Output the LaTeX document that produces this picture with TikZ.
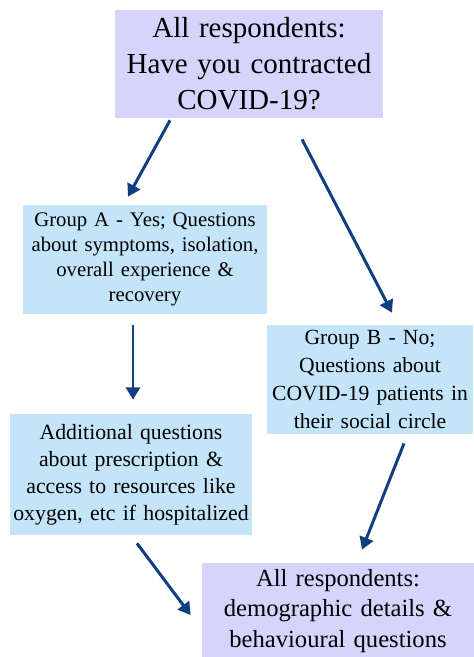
\documentclass[tikz,border=0pt]{standalone}
\usepackage{fontspec}
\setmainfont{Liberation Serif}
\usetikzlibrary{arrows.meta,calc}

\definecolor{lavbox}{RGB}{212,212,252}
\definecolor{bluebox}{RGB}{196,228,250}
\definecolor{arrowblue}{RGB}{16,62,128}

\tikzset{
    box/.style={inner sep=0pt, align=center, text=black},
    arr/.style={arrowblue, line width=1.7pt, -{Triangle[length=7pt,width=8pt]}}
}

\begin{document}
\begin{tikzpicture}[x=0.02cm, y=-0.02cm]
        \useasboundingbox (0,0) rectangle (474,657);
        \clip (0,0) rectangle (474,657);
        % 问题框
        \node[box, fill=lavbox, text width=268*0.02cm, minimum height=108*0.02cm,
              font=\fontsize{16.5}{20.5}\selectfont] (top) at (249,64)
              {All respondents:\\Have you contracted\\COVID-19?};
        \node[box, fill=bluebox, text width=244*0.02cm, minimum height=109*0.02cm,
              font=\fontsize{11.8}{14.2}\selectfont] (groupA) at (145,259.5)
              {Group A - Yes; Questions\\about symptoms, isolation,\\overall experience \&\\recovery};
        \node[box, fill=bluebox, text width=206*0.02cm, minimum height=109*0.02cm,
              font=\fontsize{12.3}{16}\selectfont] (groupB) at (370,379.5)
              {Group B - No;\\Questions about\\COVID-19 patients in\\their social circle};
        \node[box, fill=bluebox, text width=242*0.02cm, minimum height=121*0.02cm,
              font=\fontsize{12.4}{15.3}\selectfont] (extra) at (131,474.5)
              {Additional questions\\about prescription \&\\access to resources like\\oxygen, etc if hospitalized};
        \node[box, fill=lavbox, text width=272*0.02cm, minimum height=96*0.02cm,
              font=\fontsize{14}{17.5}\selectfont] (bottom) at (338,611)
              {All respondents:\\demographic details \&\\behavioural questions};
        % 箭头
        \draw[arr] ($(top.south)+(-79,2)$) -- ($(groupA.north)+(-17,-8)$);
        \draw[arr] ($(top.south)+(53,21)$) -- ($(groupB.north)+(22,-12)$);
        \draw[arr] ($(groupA.south)+(-12,11)$) -- ($(extra.north)+(2,-14)$);
        \draw[arr] ($(groupB.south)+(34,9)$) -- ($(bottom.north)+(24,-13)$);
        \draw[arr] ($(extra.south)+(6,8)$) -- ($(bottom.west)+(-11,4)$);
    \end{tikzpicture}
\end{document}
